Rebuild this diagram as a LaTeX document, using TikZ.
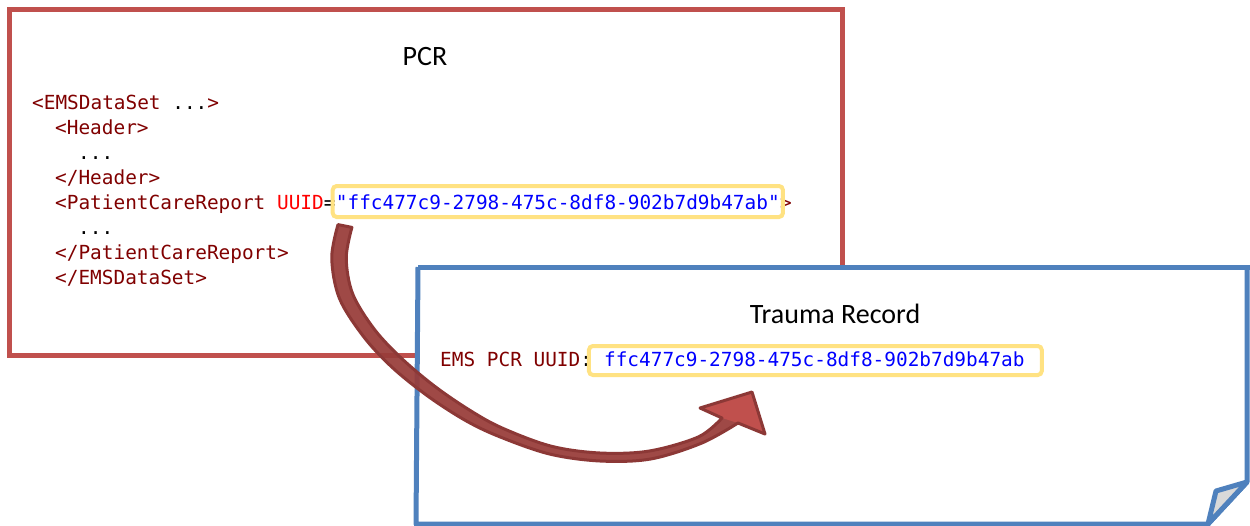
\documentclass[tikz,border=0pt]{standalone}
\usepackage{fontspec}
\setmainfont{Carlito}
\newfontfamily\codefont{DejaVu Sans Mono}
\usetikzlibrary{calc}
\definecolor{pcrred}{RGB}{192,80,77}
\definecolor{trblue}{RGB}{79,129,189}
\definecolor{hlyellow}{RGB}{255,226,130}
\definecolor{tagred}{RGB}{128,0,0}
\definecolor{attrred}{RGB}{255,0,0}
\definecolor{valblue}{RGB}{0,0,255}
\definecolor{arrdark}{RGB}{140,56,54}
\definecolor{arrshaft}{RGB}{152,60,57}
\definecolor{foldgray}{RGB}{217,217,217}
\newcommand{\tg}[1]{\textcolor{tagred}{#1}}
\newcommand{\bk}[1]{\textcolor{black}{#1}}
\tikzset{
  code/.style={inner sep=0pt, anchor=base west, font=\codefont\fontsize{19.4}{25}\selectfont, text height=14pt, text depth=4pt},
  ttl/.style={inner sep=0pt, anchor=base, font=\fontsize{28}{32}\selectfont},
  ybox/.style={draw=hlyellow, line width=4pt, rounded corners=4pt},
  pcrbox/.style={draw=pcrred, line width=5pt, fill=white},
  trline/.style={draw=trblue, line width=5pt, line join=round},
}
\begin{document}
\begin{tikzpicture}[x=1pt,y=-1pt]
\useasboundingbox (0,0) rectangle (1250,525);
% PCR box
\draw[pcrbox] (9,9) rectangle (842,355);
\node[ttl] (pcrt) at (425,65) {PCR};
\node[code] (l1) at (32,109) {\tg{<EMSDataSet} \bk{...}\tg{>}};
\node[code] (l2) at (55,134) {\tg{<Header>}};
\node[code] (l3) at (78,159) {\bk{...}};
\node[code] (l4) at (55,184) {\tg{</Header>}};
\node[code] (l5) at (55,209) {\tg{<PatientCareReport }\textcolor{attrred}{UUID}\bk{=}};
\node[code, anchor=base west] (uuid1) at (l5.base east) {\textcolor{valblue}{"ffc477c9-2798-475c-8df8-902b7d9b47ab"}};
\node[code, anchor=base west] (l5e) at (uuid1.base east) {\tg{>}};
\node[code] (l6) at (78,234) {\bk{...}};
\node[code] (l7) at (55,259) {\tg{</PatientCareReport>}};
\node[code] (l8) at (55,284) {\tg{</EMSDataSet>}};
\draw[ybox] ($(uuid1.base west)+(-3,-23)$) rectangle ($(uuid1.base east)+(3,8)$);
% Trauma box
\fill[white] (418,267) -- (1252,267) -- (1252,480) -- (1208,524) -- (418,524) -- cycle;
\draw[trline] (418,267) -- (1252,267);
\draw[trline] (1247,265) -- (1247,482) -- (1208,524) -- (416,524) -- (418,267);
\draw[trline, fill=foldgray] (1208,524) -- (1216,491) -- (1247,482) -- cycle;
\node[ttl] (trt) at (835,323) {Trauma Record};
\node[code] (ems) at (440,366) {\tg{EMS PCR UUID}\bk{:}};
\node[code, anchor=base west, xshift=11.68pt] (uuid2) at (ems.base east) {\textcolor{valblue}{ffc477c9-2798-475c-8df8-902b7d9b47ab}};
\draw[ybox] ($(uuid2.base west)+(-15,-20)$) rectangle ($(uuid2.base east)+(17,9)$);
% Arrow
\coordinate (as1) at (338,224.6);
\coordinate (aj1) at (738,423);
\coordinate (bR) at (765,434);
\coordinate (tip) at (752,392);
\coordinate (bL) at (700,408);
\coordinate (aj2) at (722,418);
\def\arrowpath{(as1) -- plot[smooth, tension=0.55] coordinates {(338,224.6) (331.75,258) (339.4,298.3) (363.8,336.9) (392.4,367.6) (427.4,395.8) (464.3,419.8) (498.3,436.2) (549.1,453.9) (600,461) (650.6,459) (701.4,443.2) (738,423)}
  -- (bR) -- (tip) -- (bL) -- (aj2)
  -- plot[smooth, tension=0.55] coordinates {(722,418) (698.6,436.8) (649.4,451) (600,453) (550.9,446.1) (501.7,427.8) (469.7,410.2) (434.6,386.2) (401.6,358.4) (374.2,329.1) (352.6,293.7) (346.25,258) (351.9,227.4)} -- cycle}
\path[fill=arrshaft, fill opacity=0.93] \arrowpath;
\fill[pcrred] (aj1) -- (bR) -- (tip) -- (bL) -- (aj2) -- cycle;
\draw[arrdark, line width=3pt, line join=round] \arrowpath;
\end{tikzpicture}
\end{document}
